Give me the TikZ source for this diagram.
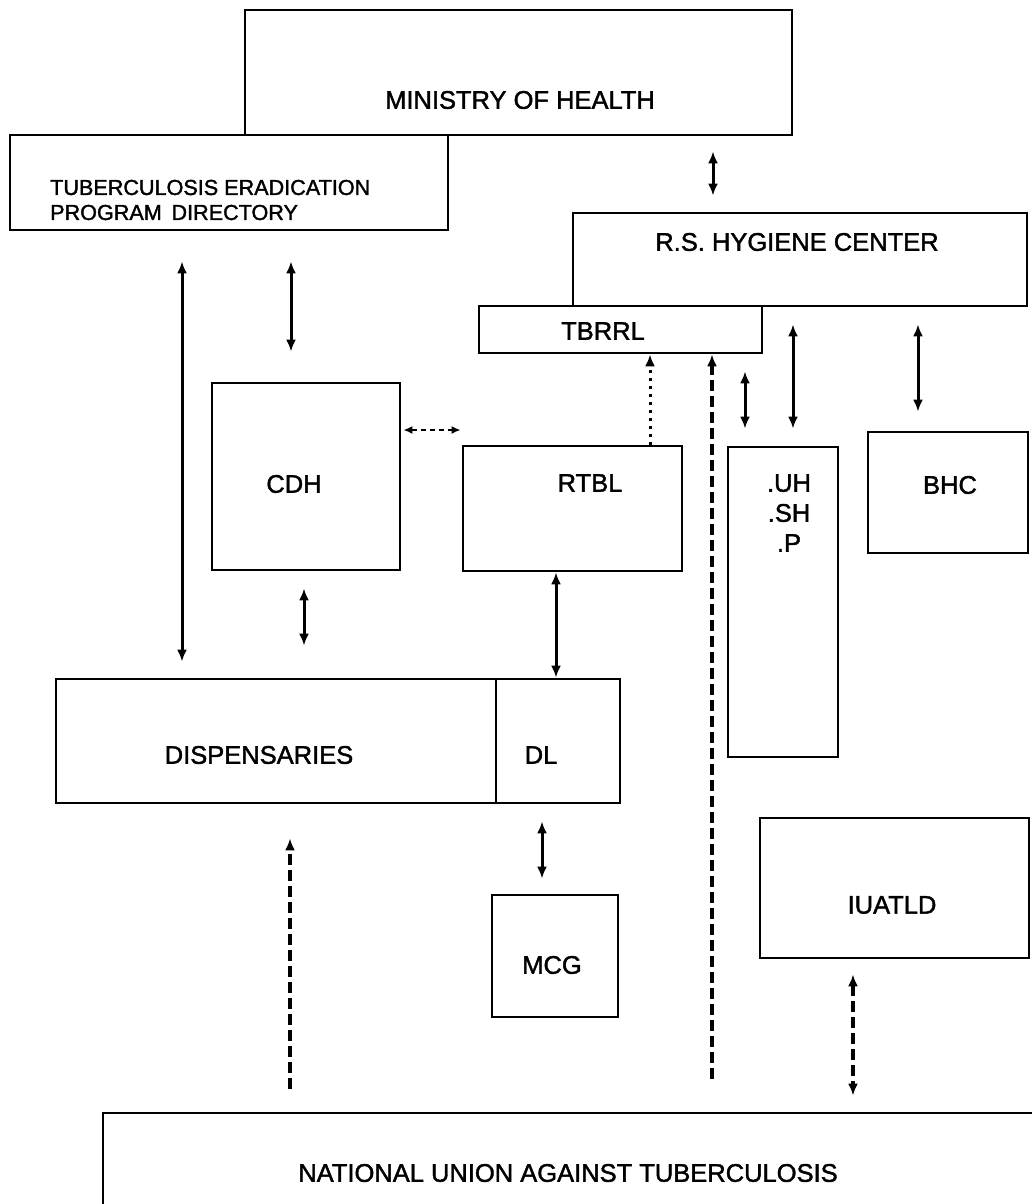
\documentclass[tikz,border=0pt]{standalone}
\usepackage{fontspec}
\setmainfont{Liberation Sans}[BoldFont={Liberation Sans}, BoldFeatures={FakeBold=1.6}]
\usetikzlibrary{arrows.meta,fit}
\begin{document}
\begin{tikzpicture}[x=1pt,y=-1pt,
  box/.style={draw, line width=2.8pt, inner sep=0pt},
  lbl/.style={font=\bfseries\fontsize{25.5}{30}\selectfont, inner sep=0pt},
  dbl/.style={line width=3pt, {Latex[length=12pt,width=10pt]}-{Latex[length=12pt,width=10pt]}},
  longdash/.style={dash pattern=on 11pt off 5pt, line width=3.2pt},
  shortdash/.style={dash pattern=on 5pt off 4pt, line width=2pt},
  dotline/.style={dash pattern=on 3pt off 5pt, line width=3pt}
]
\useasboundingbox (0,0) rectangle (1032,1204);
\clip (0,0) rectangle (1032,1204);
\fill[white] (0,0) rectangle (1032,1204);

% boxes
\node[box, fit={(245,10) (792,135)}] (MIN) {};
\node[box, fit={(10,135) (448,230)}] (TUB) {};
\node[box, fit={(573,213) (1027,306)}] (RS) {};
\node[box, fit={(479,306) (762,353)}] (TBRRL) {};
\node[box, fit={(212,383) (400,570)}] (CDH) {};
\node[box, fit={(463,446) (682,571)}] (RTBL) {};
\node[box, fit={(728,447) (838,757)}] (UH) {};
\node[box, fit={(868,432) (1028,553)}] (BHC) {};
\node[box, fit={(56,679) (496,803)}] (DISP) {};
\node[box, fit={(496,679) (620,803)}] (DL) {};
\node[box, fit={(492,895) (618,1017)}] (MCG) {};
\node[box, fit={(760,818) (1029,958)}] (IUATLD) {};
\node[box, fit={(103,1113) (1070,1270)}] (NU) {};

% texts
\node[lbl] (tMIN) at (520,100) {MINISTRY OF HEALTH};
\node[lbl, font=\bfseries\fontsize{21.6}{25}\selectfont, align=left, anchor=west] (tTUB) at (50,200) {TUBERCULOSIS ERADICATION\\PROGRAM\hspace{0.45em}DIRECTORY};
\node[lbl] (tRS) at (797,242) {R.S. HYGIENE CENTER};
\node[lbl] (tTBRRL) at (603,331) {TBRRL};
\node[lbl] (tCDH) at (294,484) {CDH};
\node[lbl] (tRTBL) at (590,483) {RTBL};
\node[lbl, align=center] (tUH) at (789,513) {.UH\\.SH\\.P};
\node[lbl] (tBHC) at (950,485) {BHC};
\node[lbl] (tDISP) at (259,755) {DISPENSARIES};
\node[lbl] (tDL) at (541,755) {DL};
\node[lbl] (tMCG) at (552,965) {MCG};
\node[lbl] (tIUATLD) at (892,905) {IUATLD};
\node[lbl] (tNU) at (568,1173) {NATIONAL UNION AGAINST TUBERCULOSIS};

% connector x / y positions
\coordinate (xa) at (713,0);
\coordinate (xb) at (182,0);
\coordinate (xc) at (291,0);
\coordinate (ya) at (0,430);
\coordinate (xe) at (304,0);
\coordinate (xf) at (556,0);
\coordinate (xg) at (650,0);
\coordinate (xh) at (712,0);
\coordinate (xi) at (745,0);
\coordinate (xj) at (793,0);
\coordinate (xk) at (918,0);
\coordinate (xl) at (290,0);
\coordinate (xm) at (542,0);
\coordinate (xn) at (853,0);

% connectors
\draw[dbl, shorten <=15pt, shorten >=16pt] (MIN.south -| xa) -- (RS.north -| xa);
\draw[dbl, shorten <=30pt, shorten >=16pt] (TUB.south -| xb) -- (DISP.north -| xb);
\draw[dbl, shorten <=30pt, shorten >=30pt] (TUB.south -| xc) -- (CDH.north -| xc);
\draw[shortdash, {Latex[length=9pt,width=8pt]}-{Latex[length=9pt,width=8pt]}, shorten <=2pt, shorten >=1pt] (CDH.east |- ya) -- (RTBL.west |- ya);
\draw[dbl, shorten <=17pt, shorten >=32pt] (CDH.south -| xe) -- (DISP.north -| xe);
\draw[dbl] (RTBL.south -| xf) -- (DL.north -| xf);
\draw[dotline, -{Latex[length=12pt,width=10pt]}] (RTBL.north -| xg) -- (TBRRL.south -| xg);
\draw[longdash, -{Latex[length=12pt,width=10pt]}, shorten <=33pt] (NU.north -| xh) -- (TBRRL.south -| xh);
\draw[dbl, shorten <=17pt, shorten >=17pt] (TBRRL.south -| xi) -- (UH.north -| xi);
\draw[dbl, shorten <=17pt, shorten >=17pt] (RS.south -| xj) -- (UH.north -| xj);
\draw[dbl, shorten <=17pt, shorten >=19pt] (RS.south -| xk) -- (BHC.north -| xk);
\draw[longdash, -{Latex[length=12pt,width=10pt]}, shorten <=23pt, shorten >=34pt] (NU.north -| xl) -- (DISP.south -| xl);
\draw[dbl, shorten <=17pt, shorten >=15pt] (DL.south -| xm) -- (MCG.north -| xm);
\draw[longdash, {Latex[length=12pt,width=10pt]}-{Latex[length=12pt,width=10pt]}, shorten <=15pt, shorten >=16pt] (IUATLD.south -| xn) -- (NU.north -| xn);
\end{tikzpicture}
\end{document}
